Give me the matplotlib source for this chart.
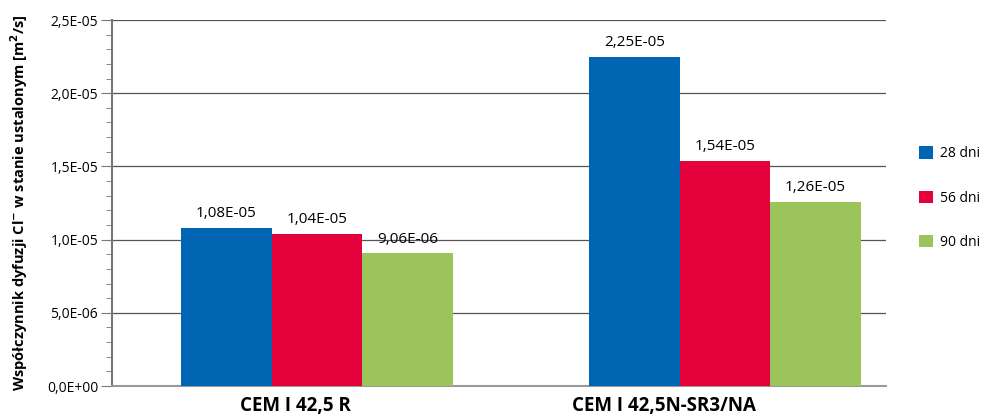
import matplotlib.pyplot as plt
from matplotlib.ticker import MultipleLocator, FuncFormatter
import numpy as np

plt.rcParams['font.family'] = ['Open Sans', 'DejaVu Sans']

kategorie = ["CEM I 42,5 R", "CEM I 42,5N-SR3/NA"]
serie = ["28 dni", "56 dni", "90 dni"]
wartosci = {
    "28 dni": [1.08e-05, 2.25e-05],
    "56 dni": [1.04e-05, 1.54e-05],
    "90 dni": [9.06e-06, 1.26e-05],
}
kolory = ["#0066b3", "#e4003a", "#9bc45a"]

fig = plt.figure(figsize=(9.88, 4.17), dpi=100)
ax = fig.add_axes([0.1134, 0.0743, 0.7834, 0.8777])

x = np.arange(len(kategorie))
w = 0.222
for i, nome in enumerate(serie):
    pos = x + (i - 1) * w
    barre = ax.bar(pos, wartosci[nome], w, color=kolory[i], label=nome, zorder=3)
    for b, v in zip(barre, wartosci[nome]):
        ax.text(b.get_x() + b.get_width() / 2, v + 0.045e-5,
                f"{v:.2E}".replace('.', ','), ha='center', va='bottom', fontsize=11)

ax.set_xlim(-0.502, 1.395)
ax.set_ylim(0, 2.5e-05)
ax.yaxis.set_major_locator(MultipleLocator(5e-06))
ax.yaxis.set_minor_locator(MultipleLocator(1e-06))
ax.yaxis.set_major_formatter(FuncFormatter(lambda v, p: f"{v:.1E}".replace('.', ',')))
ax.tick_params(axis='y', which='major', length=8, color='#777777', labelsize=10, pad=2)
ax.tick_params(axis='y', which='minor', length=4, color='#777777')
# etykiety kategorii przesuniete w lewo jak w oryginale
ax.set_xticks(x - np.array([0.052, 0.149]))
ax.set_xticklabels(kategorie, fontsize=13.5, fontweight='bold')
ax.tick_params(axis='x', length=0, pad=7)
ax.grid(axis='y', which='major', color='#555555', linewidth=0.9, zorder=0)

for s in ['top', 'right']:
    ax.spines[s].set_visible(False)
ax.spines['left'].set_color('#777777')
ax.spines['left'].set_linewidth(1.5)
ax.spines['bottom'].set_color('#999999')
ax.spines['bottom'].set_linewidth(1.5)

ax.set_ylabel(r"Współczynnik dyfuzji Cl$^{\mathbf{-}}$ w stanie ustalonym [m$^{\mathbf{2}}$/s]",
              fontsize=10.5, fontweight='bold', labelpad=12)

fig.legend(loc='center left', bbox_to_anchor=(0.925, 0.525), frameon=False,
           fontsize=10, handlelength=1.0, handleheight=1.0, labelspacing=2.1,
           handletextpad=0.5, borderaxespad=0)

fig.savefig("out.png", dpi=100)
